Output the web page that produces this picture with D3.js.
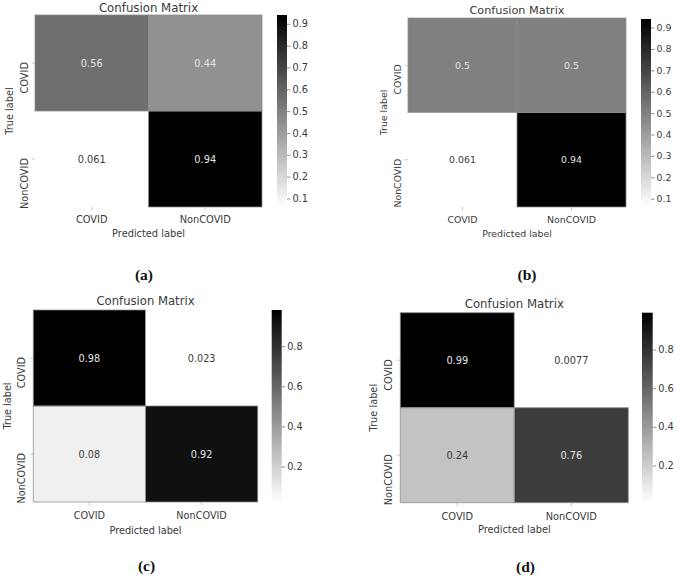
<!DOCTYPE html>
<html>
<head>
<meta charset="utf-8">
<script src="https://cdn.jsdelivr.net/npm/d3@7/dist/d3.min.js"></script>
<style>
  html, body { margin: 0; padding: 0; background: #fff; }
  svg { display: block; }
  text { font-family: "DejaVu Sans", sans-serif; }
  text.caption { font-family: "Liberation Serif", "Times New Roman", serif; font-weight: bold; }
</style>
</head>
<body>
<svg id="chart" width="676" height="583"></svg>
<script>
// ---------------- data ----------------
const categories = ["COVID", "NonCOVID"];
const valuesA = [[0.56, 0.44], [0.061, 0.94]];
const valuesB = [[0.5, 0.5], [0.061, 0.94]];
const valuesC = [[0.98, 0.023], [0.08, 0.92]];
const valuesD = [[0.99, 0.0077], [0.24, 0.76]];
const colorbarTicksAB = [0.1, 0.2, 0.3, 0.4, 0.5, 0.6, 0.7, 0.8, 0.9];
const colorbarTicksCD = [0.2, 0.4, 0.6, 0.8];
const captions = ["(a)", "(b)", "(c)", "(d)"];
const titleText = "Confusion Matrix";
const xLabelText = "Predicted label";
const yLabelText = "True label";

// ---------------- layout (positions only) ----------------
const layout = [
  { values: valuesA, ticks: colorbarTicksAB, caption: captions[0],
    hm: [35, 262, 15, 207], cb: [277, 287, 15, 207], fs: 9.8,
    titleDy: -7, ytickDx: -11, ylabDx: -25.5, xtickDy: 12, xlabDy: 26, cap: [144, 274] },
  { values: valuesB, ticks: colorbarTicksAB, caption: captions[1],
    hm: [408, 626, 18, 207], cb: [641, 651, 19, 207], fs: 9.4,
    titleDy: -7.3, ytickDx: -11, ylabDx: -25, xtickDy: 12, xlabDy: 26, cap: [527, 274] },
  { values: valuesC, ticks: colorbarTicksCD, caption: captions[2],
    hm: [33.3, 257.7, 310, 502], cb: [271.7, 281.7, 310, 502], fs: 9.7,
    titleDy: -9, ytickDx: -11.6, ylabDx: -26, xtickDy: 13.3, xlabDy: 28, cap: [146.5, 565] },
  { values: valuesD, ticks: colorbarTicksCD, caption: captions[3],
    hm: [400.3, 628.3, 312.7, 502.7], cb: [642, 652.7, 312.7, 502.7], fs: 9.8,
    titleDy: -8.7, ytickDx: -11.6, ylabDx: -27, xtickDy: 13.3, xlabDy: 26.6, cap: [525.5, 566] }
];

const svg = d3.select("#chart");
svg.append("rect").attr("width", 676).attr("height", 583).attr("fill", "#fff");

const defs = svg.append("defs");
const fmt = d3.format(".2~g");
const textColor = "#3a3a3a";

function luminance(c) {
  const rgb = d3.rgb(c);
  const f = v => { v /= 255; return v <= 0.03928 ? v / 12.92 : Math.pow((v + 0.055) / 1.055, 2.4); };
  return 0.2126 * f(rgb.r) + 0.7152 * f(rgb.g) + 0.0722 * f(rgb.b);
}

layout.forEach((p, i) => {
  const [x0, x1, y0, y1] = p.hm;
  const [cx0, cx1, cy0, cy1] = p.cb;
  const fs = p.fs;
  const flat = p.values.flat();
  const vmin = d3.min(flat), vmax = d3.max(flat);

  const x = d3.scaleBand().domain(categories).range([x0, x1]);
  const y = d3.scaleBand().domain(categories).range([y0, y1]);
  const color = d3.scaleLinear().domain([vmin, vmax]).range(["#ffffff", "#000000"]);

  const g = svg.append("g");

  // cells
  const cells = [];
  categories.forEach((r, ri) => categories.forEach((c, ci) => cells.push({ r, c, v: p.values[ri][ci] })));

  g.selectAll("rect.cell").data(cells).enter().append("rect")
    .attr("class", "cell")
    .attr("x", d => x(d.c)).attr("y", d => y(d.r))
    .attr("width", x.bandwidth()).attr("height", y.bandwidth())
    .attr("fill", d => color(d.v));

  // faint edge lines (rasterisation seams) around non-white cells
  g.selectAll("rect.edge").data(cells.filter(d => (d.v - vmin) / (vmax - vmin) > 0.04)).enter().append("rect")
    .attr("x", d => x(d.c)).attr("y", d => y(d.r))
    .attr("width", x.bandwidth()).attr("height", y.bandwidth())
    .attr("fill", "none").attr("stroke", "#8c8c8c").attr("stroke-width", 1).attr("stroke-opacity", 0.75);

  // annotations
  g.selectAll("text.ann").data(cells).enter().append("text")
    .attr("x", d => x(d.c) + x.bandwidth() / 2)
    .attr("y", d => y(d.r) + y.bandwidth() / 2)
    .attr("text-anchor", "middle").attr("dominant-baseline", "central")
    .attr("font-size", fs)
    .attr("fill", d => luminance(color(d.v)) > 0.408 ? "#3a3a3a" : "#e4e4e4")
    .text(d => fmt(d.v));

  // x axis
  const xAxis = g.append("g").attr("transform", `translate(0,${y1})`)
    .call(d3.axisBottom(x).tickSize(3.5).tickSizeOuter(0).tickPadding(4));
  xAxis.select(".domain").remove();
  xAxis.selectAll(".tick line").attr("stroke", "#bbb").attr("stroke-width", 0.8);
  xAxis.selectAll(".tick text").remove();
  g.selectAll("text.xt").data(categories).enter().append("text")
    .attr("x", d => x(d) + x.bandwidth() / 2).attr("y", y1 + p.xtickDy)
    .attr("text-anchor", "middle").attr("dominant-baseline", "central")
    .attr("font-size", fs).attr("fill", textColor).text(d => d);

  // y axis
  const yAxis = g.append("g").attr("transform", `translate(${x0},0)`)
    .call(d3.axisLeft(y).tickSize(3.5).tickSizeOuter(0));
  yAxis.select(".domain").remove();
  yAxis.selectAll(".tick line").attr("stroke", "#bbb").attr("stroke-width", 0.8);
  yAxis.selectAll(".tick text").remove();
  g.selectAll("text.yt").data(categories).enter().append("text")
    .attr("transform", d => `translate(${x0 + p.ytickDx},${y(d) + y.bandwidth() / 2 - 1}) rotate(-90)`)
    .attr("text-anchor", "end").attr("dominant-baseline", "central")
    .attr("font-size", fs).attr("fill", textColor).text(d => d);

  // title & labels
  g.append("text").attr("x", (x0 + x1) / 2).attr("y", y0 + p.titleDy)
    .attr("text-anchor", "middle").attr("dominant-baseline", "central")
    .attr("font-size", fs * 1.2).attr("fill", textColor).text(titleText);
  g.append("text").attr("x", (x0 + x1) / 2).attr("y", y1 + p.xlabDy)
    .attr("text-anchor", "middle").attr("dominant-baseline", "central")
    .attr("font-size", fs).attr("fill", textColor).text(xLabelText);
  g.append("text")
    .attr("transform", `translate(${x0 + p.ylabDx},${(y0 + y1) / 2}) rotate(-90)`)
    .attr("text-anchor", "middle").attr("dominant-baseline", "central")
    .attr("font-size", fs).attr("fill", textColor).text(yLabelText);

  // colorbar
  const gradId = "grad" + i;
  const grad = defs.append("linearGradient").attr("id", gradId)
    .attr("x1", 0).attr("y1", 1).attr("x2", 0).attr("y2", 0);
  d3.range(0, 1.0001, 0.1).forEach(t => {
    grad.append("stop").attr("offset", t).attr("stop-color", color(vmin + t * (vmax - vmin)));
  });
  g.append("rect").attr("x", cx0).attr("y", cy0).attr("width", cx1 - cx0).attr("height", cy1 - cy0)
    .attr("fill", `url(#${gradId})`);

  const cbScale = d3.scaleLinear().domain([vmin, vmax]).range([cy1, cy0]);
  const cbAxis = g.append("g").attr("transform", `translate(${cx1},0)`)
    .call(d3.axisRight(cbScale).tickValues(p.ticks).tickSize(3.5).tickPadding(2).tickFormat(d3.format(".1f")));
  cbAxis.select(".domain").remove();
  cbAxis.selectAll(".tick line").attr("stroke", "#777").attr("stroke-width", 0.8);
  cbAxis.selectAll(".tick text").attr("font-size", fs).attr("fill", textColor);

  // caption
  g.append("text").attr("class", "caption").attr("x", p.cap[0]).attr("y", p.cap[1])
    .attr("text-anchor", "middle").attr("dominant-baseline", "central")
    .attr("font-size", 15.5).attr("fill", "#111")
    .text(p.caption);
});
</script>
</body>
</html>
